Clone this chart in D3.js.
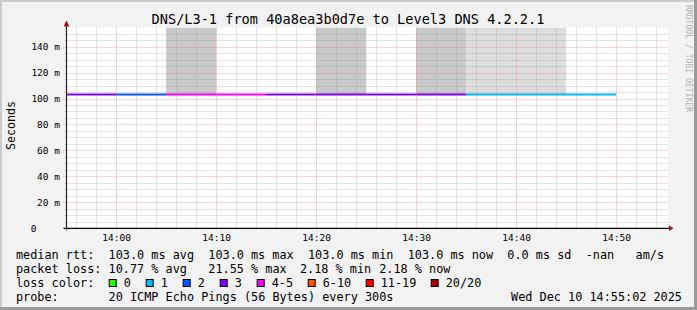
<!DOCTYPE html>
<html>
<head>
<meta charset="utf-8">
<script src="https://cdn.jsdelivr.net/npm/d3@7"></script>
<style>
  html, body { margin: 0; padding: 0; background: #f2f2f2; }
  svg { display: block; }
  text { font-family: "DejaVu Sans Mono", monospace; white-space: pre; }
</style>
</head>
<body>
<div class="container"></div>
<script>
// 5 minute bins, median rtt (ms), loss bucket index, smoke shade per bin
const binStarts = ['13:55', '14:00', '14:05', '14:10', '14:15', '14:20', '14:25', '14:30', '14:35', '14:40', '14:45'];
const medianRtt = [103.0, 103.0, 103.0, 103.0, 103.0, 103.0, 103.0, 103.0, 103.0, 103.0, 103.0];
const lossBucket = [3, 2, 4, 4, 3, 3, 3, 3, 1, 1, 1];
const smokeShade = [0, 0, 2, 0, 0, 2, 0, 2, 1, 1, 0];

const lossLabels = ['0', '1', '2', '3', '4-5', '6-10', '11-19', '20/20'];
const lossColors = ['#26ff00', '#00b8ff', '#0059ff', '#7e00ff', '#ff00ff', '#ff5500', '#ff0000', '#a10000'];

const title = 'DNS/L3-1 from 40a8ea3b0d7e to Level3 DNS 4.2.2.1';
const rttLegend = 'median rtt:  103.0 ms avg  103.0 ms max  103.0 ms min  103.0 ms now  0.0 ms sd  -nan   am/s';
const lossLegend = ['packet loss:', '10.77 % avg', '21.55 % max', '2.18 % min', '2.18 % now'];
const probeLegend = ['probe:', '20 ICMP Echo Pings (56 Bytes) every 300s'];
const stamp = 'Wed Dec 10 14:55:02 2025';

const width = 697, height = 310;
const day = (hm, s = 0) => {
    const [h, m] = hm.split(':').map(Number);
    return new Date(Date.UTC(2025, 11, 10, h, m, s));
};

const plot = {left: 66.5, right: 666.5, top: 27.5, bottom: 228.3};

const x = d3.scaleUtc()
    .domain([day('13:55', 2), day('14:55', 2)])
    .range([plot.left, plot.right]);

const y = d3.scaleLinear()
    .domain([0, 154.7])
    .range([plot.bottom, plot.top]);

const svg = d3.select('.container')
    .append('svg')
    .attr('width', width)
    .attr('height', height);

// frame
svg.append('rect').attr('width', width).attr('height', height).attr('fill', '#f2f2f2');
svg.append('path').attr('d', `M1,${height} V1 H${width}`).attr('stroke', '#cbcbcb').attr('stroke-width', 2).attr('fill', 'none');
svg.append('path').attr('d', `M0,${height - 1.5} H${width - 1.5} V0`).attr('stroke', '#999').attr('stroke-width', 3).attr('fill', 'none');

svg.append('rect')
    .attr('x', plot.left).attr('y', plot.top)
    .attr('width', plot.right - plot.left + 1.5).attr('height', plot.bottom - plot.top)
    .attr('fill', '#fff');

const bins = binStarts.map((b, i) => ({
    t0: day(b),
    t1: new Date(+day(b) + 300000),
    rtt: medianRtt[i],
    loss: lossBucket[i],
    smoke: smokeShade[i]
}));

svg.append('clipPath').attr('id', 'clip')
    .append('rect')
    .attr('x', plot.left).attr('y', plot.top)
    .attr('width', plot.right - plot.left + 1.5).attr('height', plot.bottom - plot.top);

const g = svg.append('g').attr('clip-path', 'url(#clip)');

// smoke
g.selectAll('rect.smoke')
    .data(bins.filter(d => d.smoke > 0))
    .join('rect')
    .attr('x', d => x(d.t0))
    .attr('width', d => x(d.t1) - x(d.t0))
    .attr('y', plot.top)
    .attr('height', d => y(d.rtt) - plot.top)
    .attr('fill', d => d.smoke === 2 ? '#c9c9c9' : '#dddddd');

// grid (rrdtool style dotted)
const minorX = d3.utcMinute.every(2).range(x.domain()[0], x.domain()[1]);
const majorX = x.ticks(d3.utcMinute.every(10));
const minorY = d3.range(5, 155, 5);
const majorY = d3.range(20, 155, 20);
const minorCol = 'rgba(150,150,150,0.5)', majorCol = 'rgba(230,100,100,0.55)';

const grid = svg.append('g').attr('fill', 'none').attr('stroke-width', 1).attr('stroke-dasharray', '1,1');
grid.selectAll('line.mx')
    .data(minorX.filter(t => t.getUTCMinutes() % 10 !== 0))
    .join('line')
    .attr('x1', d => Math.round(x(d)) + 0.5).attr('x2', d => Math.round(x(d)) + 0.5)
    .attr('y1', plot.top).attr('y2', plot.bottom + 2)
    .attr('stroke', minorCol);
grid.selectAll('line.my')
    .data(minorY.filter(v => v % 20 !== 0))
    .join('line')
    .attr('y1', d => Math.round(y(d)) + 0.5).attr('y2', d => Math.round(y(d)) + 0.5)
    .attr('x1', plot.left - 2).attr('x2', plot.right + 1.5)
    .attr('stroke', minorCol);
grid.selectAll('line.Mx')
    .data(majorX)
    .join('line')
    .attr('x1', d => Math.round(x(d)) + 0.5).attr('x2', d => Math.round(x(d)) + 0.5)
    .attr('y1', plot.top).attr('y2', plot.bottom + 3)
    .attr('stroke', majorCol);
grid.selectAll('line.My')
    .data(majorY)
    .join('line')
    .attr('y1', d => Math.round(y(d)) + 0.5).attr('y2', d => Math.round(y(d)) + 0.5)
    .attr('x1', plot.left - 3).attr('x2', plot.right + 1.5)
    .attr('stroke', majorCol);

// median line, coloured by loss
const line = d3.line().x(d => d[0]).y(d => d[1]);
g.selectAll('path.rtt')
    .data(bins)
    .join('path')
    .attr('d', d => line([[x(d.t0), y(d.rtt)], [x(d.t1), y(d.rtt)]]))
    .attr('stroke', d => lossColors[d.loss])
    .attr('stroke-width', 2)
    .attr('fill', 'none');

// axes
svg.append('line')
    .attr('x1', plot.left).attr('x2', plot.left)
    .attr('y1', plot.bottom + 2).attr('y2', 24)
    .attr('stroke', '#222').attr('stroke-width', 1.2);
svg.append('path')
    .attr('d', `M${plot.left - 2.8},26.5 L${plot.left},20.5 L${plot.left + 2.8},26.5 Z`)
    .attr('fill', '#a01010');
svg.append('line')
    .attr('x1', plot.left - 3).attr('x2', 670)
    .attr('y1', plot.bottom).attr('y2', plot.bottom)
    .attr('stroke', '#000').attr('stroke-width', 1.2);
svg.append('path')
    .attr('d', `M669,${plot.bottom - 2.8} L673.5,${plot.bottom} L669,${plot.bottom + 2.8} Z`)
    .attr('fill', '#a01010');

// tick labels
const tickFmt = d3.utcFormat('%H:%M');
svg.append('g').selectAll('text')
    .data(majorX)
    .join('text')
    .attr('x', d => x(d) + 0.5)
    .attr('y', 240.8)
    .attr('text-anchor', 'middle')
    .attr('font-size', 9.5)
    .attr('fill', '#000')
    .text(d => tickFmt(d));

svg.append('g').selectAll('text')
    .data([0].concat(majorY))
    .join('text')
    .attr('x', d => d === 0 ? 36.5 : 60)
    .attr('y', d => y(d) + 3.4)
    .attr('text-anchor', 'end')
    .attr('font-size', 9.5)
    .attr('fill', '#000')
    .text(d => d === 0 ? '0' : `${d} m`);

// titles
svg.append('text')
    .attr('x', 348).attr('y', 23.5)
    .attr('text-anchor', 'middle')
    .attr('font-size', 13.6)
    .attr('fill', '#000')
    .text(title);

svg.append('text')
    .attr('transform', 'translate(15,125.5) rotate(-90)')
    .attr('text-anchor', 'middle')
    .attr('font-size', 11.66)
    .attr('fill', '#000')
    .text('Seconds');

svg.append('text')
    .attr('transform', 'translate(685.5,5) rotate(90)')
    .attr('font-size', 8.1)
    .attr('fill', '#b4b4b4')
    .text('RRDTOOL / TOBI OETIKER');

// legend
const fs = 11.83, charW = fs * 0.6021, row = i => 258.8 + i * 13.9;
const col = c => 16 + c * charW;
const lossX = [col(0), col(13), col(27), 300, col(51)];
const probeX = [col(0), col(13)];

const legend = svg.append('g').attr('font-size', fs).attr('fill', '#000');
legend.append('text').attr('x', col(0)).attr('y', row(0)).text(rttLegend);
legend.append('g').selectAll('text')
    .data(lossLegend)
    .join('text')
    .attr('x', (d, i) => lossX[i])
    .attr('y', row(1))
    .text(d => d);
legend.append('text').attr('x', col(0)).attr('y', row(2)).text('loss color:');

let bx = 108.7;
const keys = lossLabels.map((l, i) => {
    const k = {label: l, color: lossColors[i], x: bx};
    bx += 15 + l.length * 7 + 15;
    return k;
});
const key = legend.append('g').selectAll('g').data(keys).join('g');
key.append('rect')
    .attr('x', d => d.x + 0.5).attr('y', 279.5)
    .attr('width', 7).attr('height', 7)
    .attr('fill', d => d.color)
    .attr('stroke', '#000').attr('stroke-width', 1);
key.append('text')
    .attr('x', d => d.x + 15)
    .attr('y', row(2))
    .text(d => d.label);

legend.append('g').selectAll('text')
    .data(probeLegend)
    .join('text')
    .attr('x', (d, i) => probeX[i])
    .attr('y', row(3))
    .text(d => d);
legend.append('text')
    .attr('x', 682).attr('y', row(3))
    .attr('text-anchor', 'end')
    .text(stamp);
</script>
</body>
</html>
